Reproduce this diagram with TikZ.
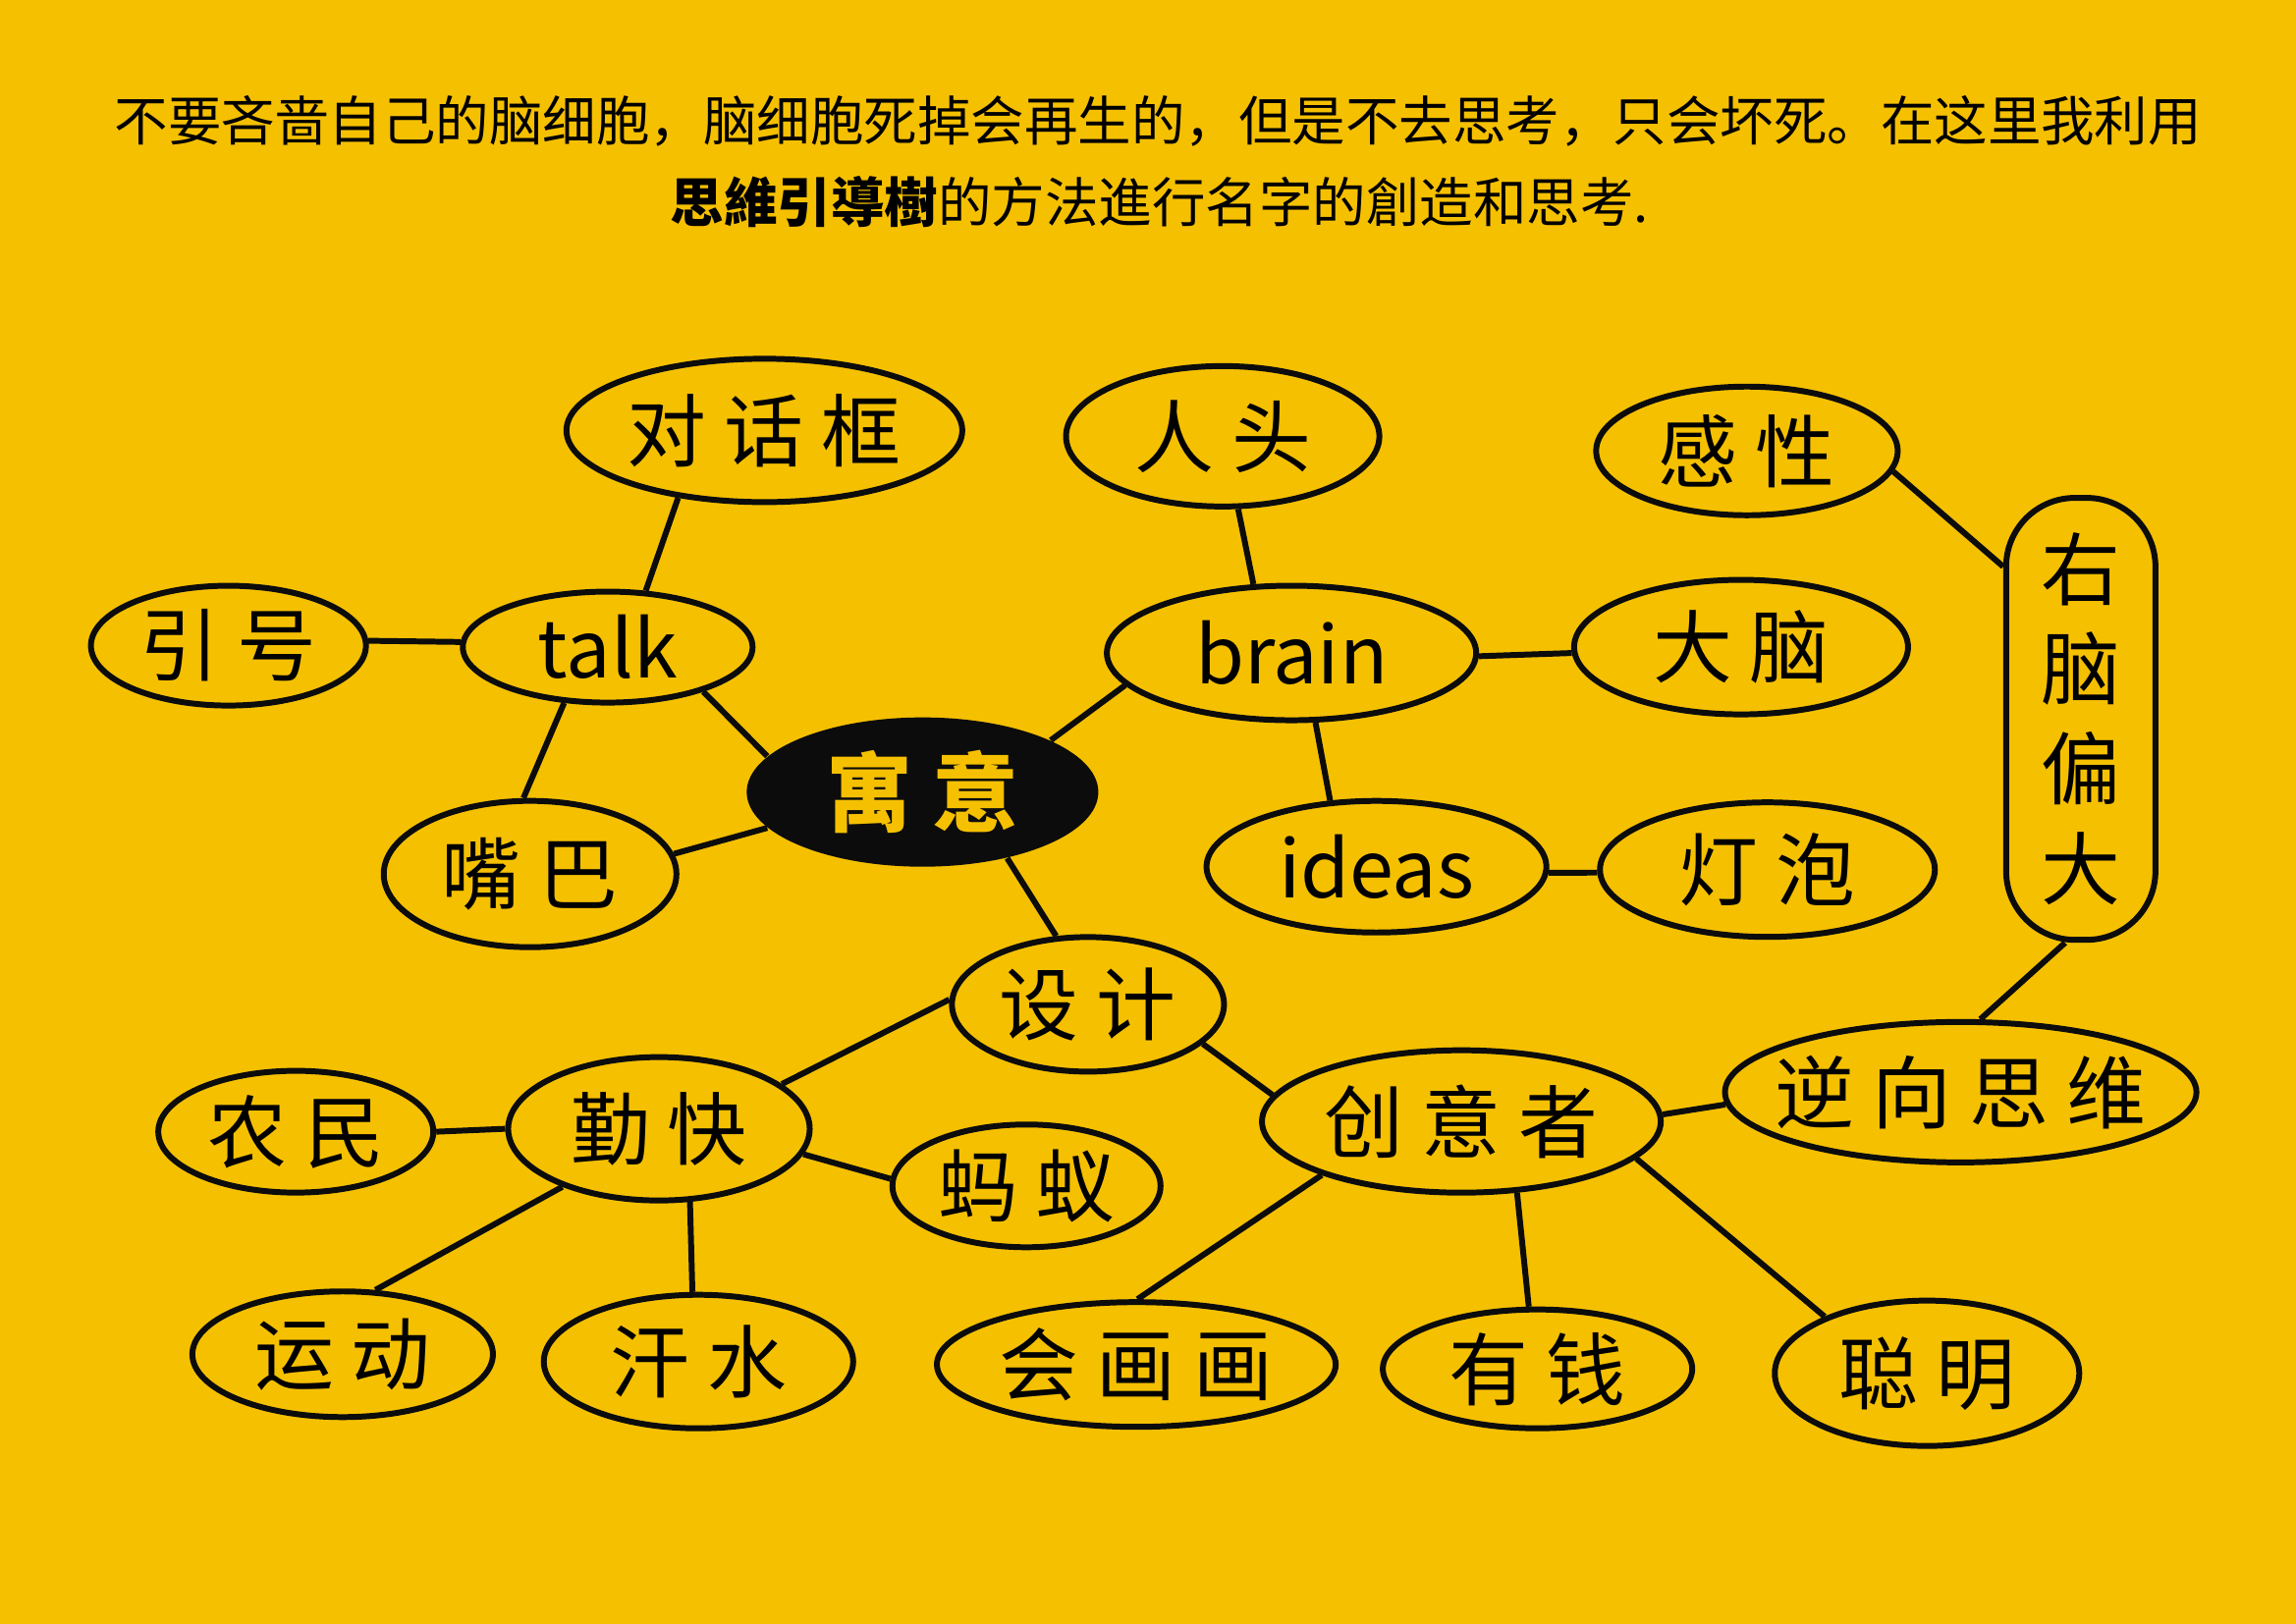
\documentclass[tikz,border=0pt]{standalone}
\usepackage{fontspec}
\setmainfont{Noto Sans CJK SC}
\usetikzlibrary{shapes.geometric}
\definecolor{mapyellow}{RGB}{245,192,0}
\definecolor{inkblack}{RGB}{12,12,12}

\begin{document}
\begin{tikzpicture}[
  x=0.01491cm, y=-0.01491cm,
  bubble/.style={shape=ellipse, draw=inkblack, line width=1.7pt,
    inner sep=0pt, align=center,
    font=\fontsize{23}{29}\selectfont},
  core/.style={shape=ellipse, fill=inkblack, inner sep=0pt,
    text=mapyellow, font=\fontsize{25}{28}\selectfont\bfseries},
  link/.style={draw=inkblack, line width=1.7pt}
  ]
  \fill[mapyellow] (0,0) rectangle (1568,1109);
  % title
  \node[font=\fontsize{15.5}{18}\selectfont] (title1) at (791,83)
    {不要吝啬自己的脑细胞，脑细胞死掉会再生的，但是不去思考，只会坏死。在这里我利用};
  \node[font=\fontsize{15.5}{18}\selectfont] (title2) at (792,138)
    {{\bfseries 思維引導樹}的方法進行名字的創造和思考.};
  % Root
  \node[core, minimum width=3.58cm, minimum height=1.52cm] (meaning) at (630,541) {寓 意};
  % left group
  \node[bubble, minimum width=2.95cm, minimum height=1.13cm] (talk) at (415,442) {talk};
  \node[bubble, minimum width=4.03cm, minimum height=1.46cm] (dialog) at (522,294) {对 话 框};
  \node[bubble, minimum width=2.80cm, minimum height=1.22cm] (quote) at (156,441) {引 号};
  \node[bubble, minimum width=2.98cm, minimum height=1.49cm] (mouth) at (362,597) {嘴 巴};
  % right group
  \node[bubble, minimum width=3.76cm, minimum height=1.37cm] (brain) at (882,446) {brain};
  \node[bubble, minimum width=3.19cm, minimum height=1.43cm] (head) at (835,298) {人 头};
  \node[bubble, minimum width=3.40cm, minimum height=1.37cm] (cerebrum) at (1189,442) {大 脑};
  \node[bubble, minimum width=3.46cm, minimum height=1.34cm] (ideas) at (940,592) {ideas};
  \node[bubble, minimum width=3.41cm, minimum height=1.37cm] (bulb) at (1207,594) {灯 泡};
  \node[bubble, minimum width=3.07cm, minimum height=1.31cm] (feeling) at (1193,308) {感 性};
  \node[bubble, shape=rectangle, rounded corners=0.7cm,
    minimum width=1.52cm, minimum height=4.50cm] (rightbrain) at (1421,491) {右\\脑\\偏\\大};
  \node[bubble, inner xsep=-6pt, minimum width=4.80cm, minimum height=1.43cm] (reverse) at (1339,746) {逆 向 思 维};
  % lower group
  \node[bubble, minimum width=2.77cm, minimum height=1.37cm] (design) at (743,686) {设 计};
  \node[bubble, minimum width=4.06cm, minimum height=1.45cm] (creator) at (998,766) {创 意 者};
  \node[bubble, minimum width=3.07cm, minimum height=1.46cm] (diligent) at (450,771) {勤 快};
  \node[bubble, minimum width=2.80cm, minimum height=1.24cm] (farmer) at (202,773) {农 民};
  \node[bubble, minimum width=2.73cm, minimum height=1.25cm] (ant) at (701,810) {蚂 蚁};
  \node[bubble, minimum width=3.06cm, minimum height=1.28cm] (sport) at (234,925) {运 动};
  \node[bubble, minimum width=3.15cm, minimum height=1.36cm] (sweat) at (477,930) {汗 水};
  \node[bubble, minimum width=4.06cm, minimum height=1.27cm] (painting) at (776,932) {会 画 画};
  \node[bubble, minimum width=3.15cm, minimum height=1.21cm] (rich) at (1050,935) {有 钱};
  \node[bubble, minimum width=3.10cm, minimum height=1.48cm] (smart) at (1316,938) {聪 明};
  % links
  \draw[link] (talk.-25) -- (meaning.167);
  \draw[link] (meaning.193) -- (mouth.8);
  \draw[link] (meaning.22) -- (brain.191);
  \draw[link] (meaning.322) -- (design.115);
  \draw[link] (talk.56) -- (dialog.218);
  \draw[link] (talk.178) -- (quote.2);
  \draw[link] (talk.232) -- (mouth.95);
  \draw[link] (brain.119) -- (head.282);
  \draw[link] (brain.-1) -- (cerebrum.182);
  \draw[link] (brain.289) -- (ideas.125);
  \draw[link] (ideas.-2) -- (bulb.181);
  \draw[link] (feeling.-8) -- (rightbrain.117);
  \draw[link] (rightbrain.266) -- (reverse.75);
  \draw[link] (reverse.183) -- (creator.2);
  \draw[link] (design.341) -- (creator.172);
  \draw[link] (design.178) -- (diligent.20);
  \draw[link] (diligent.180) -- (farmer.0);
  \draw[link] (diligent.-10) -- (ant.177);
  \draw[link] (diligent.211) -- (sport.63);
  \draw[link] (diligent.293) -- (sweat.95);
  \draw[link] (creator.201) -- (painting.89);
  \draw[link] (creator.308) -- (rich.98);
  \draw[link] (creator.-12) -- (smart.151);
\end{tikzpicture}
\end{document}
